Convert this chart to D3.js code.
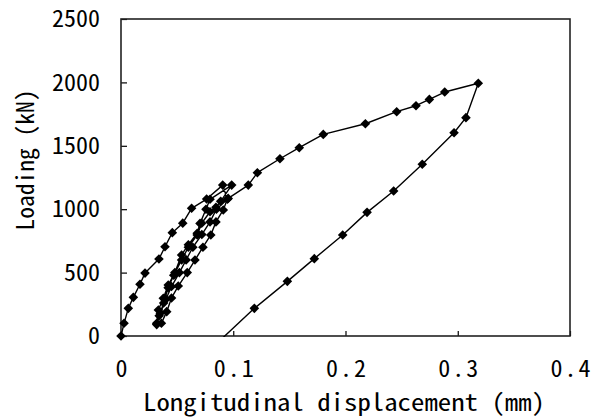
<!DOCTYPE html>
<html>
<head>
<meta charset="utf-8">
<script src="https://cdn.jsdelivr.net/npm/d3@7"></script>
<style>
  html, body { margin: 0; padding: 0; background: #fff; }
  svg { display: block; }
  text { font-family: "Noto Sans Mono CJK JP", "Liberation Mono", monospace; fill: #000; }
</style>
</head>
<body>
<svg id="chart" width="596" height="419"></svg>
<script>
// Load–displacement record: first loading, repeated unload/reload cycles,
// loading to peak and final unloading.
const displacement = [
  0, 0.0027, 0.0065, 0.011, 0.0169, 0.0214, 0.0338, 0.0392, 0.0457, 0.055, 0.0629, 0.0763, 0.0906,
  0.0947, 0.0911, 0.0846, 0.0800, 0.0730, 0.0659, 0.0590, 0.0510, 0.0450, 0.0407, 0.0360,
  0.0318, 0.0333, 0.0377, 0.0421, 0.0480, 0.0540, 0.0600, 0.0679, 0.0704, 0.0757, 0.0793, 0.0986,
  0.0888, 0.0846, 0.0793, 0.0719, 0.0679, 0.0600, 0.0540, 0.0470, 0.0420, 0.0380, 0.0340, 0.0318,
  0.0350, 0.0400, 0.0450, 0.0520, 0.0580, 0.0640, 0.0720, 0.0793, 0.0850, 0.0955,
  0.1134, 0.1215, 0.1416, 0.1588, 0.1802, 0.2177, 0.2456, 0.2628, 0.2747, 0.2884, 0.3183,
  0.3073, 0.2967, 0.2684, 0.2429, 0.2192, 0.1975, 0.1722, 0.1482, 0.1188, 0.087
];
const loading = [
  0, 100, 218, 305, 408, 496, 607, 704, 815, 890, 1007, 1080, 1190,
  1078, 994, 900, 797, 700, 599, 500, 394, 300, 192, 100,
  100, 205, 297, 402, 500, 639, 720, 810, 888, 1000, 1078, 1190,
  1062, 1015, 980, 889, 797, 700, 600, 480, 380, 260, 160, 90,
  180, 290, 390, 500, 600, 700, 800, 900, 1000, 1085,
  1190, 1288, 1398, 1485, 1590, 1674, 1769, 1816, 1866, 1924, 1993,
  1722, 1603, 1354, 1143, 975, 796, 610, 431, 218, -45
];
const xTicks = [0, 0.1, 0.2, 0.3, 0.4];
const yTicks = [0, 500, 1000, 1500, 2000, 2500];
const xTitle = "Longitudinal displacement (mm)";
const yTitle = "Loading (kN)";

const points = displacement.map((d, i) => ({ x: d, y: loading[i] }));

const svg = d3.select("#chart");
const plot = { left: 121, top: 19, right: 570, bottom: 336 };

const x = d3.scaleLinear().domain([0, 0.4]).range([plot.left, plot.right]);
const y = d3.scaleLinear().domain([0, 2500]).range([plot.bottom, plot.top]);

// inward tick marks
svg.append("g")
  .attr("transform", `translate(0,${plot.bottom})`)
  .call(d3.axisBottom(x).tickValues(xTicks)
    .tickFormat(d => d === 0 ? "0" : d3.format(".1f")(d))
    .tickSizeInner(-5).tickSizeOuter(0).tickPadding(24))
  .call(g => g.select(".domain").remove())
  .call(g => g.selectAll("line").attr("stroke", "#000").attr("stroke-width", 1.2))
  .call(g => g.selectAll("text").attr("font-size", 24).attr("font-family", null)
    .filter(d => d !== 0)
    .attr("textLength", 40).attr("lengthAdjust", "spacing"));

svg.append("g")
  .attr("transform", `translate(${plot.left},0)`)
  .call(d3.axisLeft(y).tickValues(yTicks).tickFormat(d3.format("d"))
    .tickSizeInner(-6).tickSizeOuter(0).tickPadding(21))
  .call(g => g.select(".domain").remove())
  .call(g => g.selectAll("line").attr("stroke", "#000").attr("stroke-width", 1.2))
  .call(g => g.selectAll("text").attr("font-size", 24).attr("font-family", null));

// plot frame
svg.append("rect")
  .attr("x", plot.left).attr("y", plot.top)
  .attr("width", plot.right - plot.left).attr("height", plot.bottom - plot.top)
  .attr("fill", "none").attr("stroke", "#222").attr("stroke-width", 1.6);

svg.append("clipPath").attr("id", "plot-clip")
  .append("rect")
  .attr("x", plot.left).attr("y", plot.top)
  .attr("width", plot.right - plot.left).attr("height", plot.bottom - plot.top + 1);

svg.append("path")
  .datum(points)
  .attr("clip-path", "url(#plot-clip)")
  .attr("fill", "none").attr("stroke", "#000").attr("stroke-width", 1.4)
  .attr("stroke-linejoin", "round")
  .attr("d", d3.line().x(d => x(d.x)).y(d => y(d.y)));

const r = 4.8;
svg.append("g").selectAll("path")
  .data(points.filter(d => d.y >= 0))
  .join("path")
  .attr("transform", d => `translate(${x(d.x)},${y(d.y)})`)
  .attr("d", `M0,${-r}L${r},0L0,${r}L${-r},0Z`)
  .attr("fill", "#000");

// axis titles
svg.append("text")
  .attr("x", 344).attr("y", 411)
  .attr("text-anchor", "middle").attr("font-size", 24)
  .attr("textLength", 402).attr("lengthAdjust", "spacingAndGlyphs")
  .text(xTitle);

svg.append("text")
  .attr("transform", "translate(34,160) rotate(-90)")
  .attr("text-anchor", "middle").attr("font-size", 24)
  .attr("textLength", 141).attr("lengthAdjust", "spacingAndGlyphs")
  .text(yTitle);
</script>
</body>
</html>
